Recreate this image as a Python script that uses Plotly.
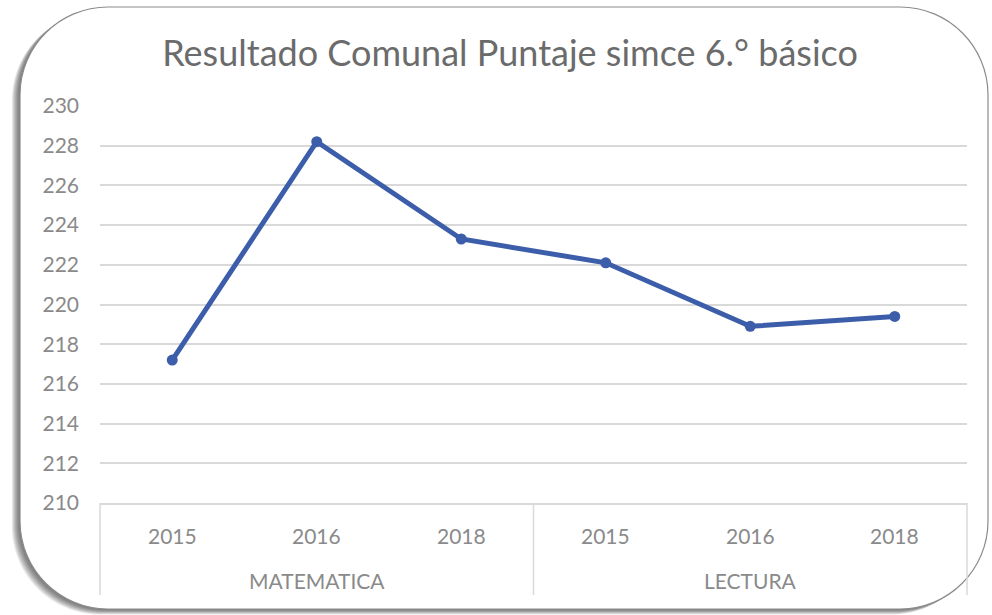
import plotly.graph_objects as go

# Series data
subjects = ["MATEMATICA", "MATEMATICA", "MATEMATICA", "LECTURA", "LECTURA", "LECTURA"]
years = ["2015", "2016", "2018", "2015", "2016", "2018"]
scores = [217.2, 228.2, 223.3, 222.1, 218.9, 219.4]
y_ticks = [210, 212, 214, 216, 218, 220, 222, 224, 226, 228, 230]

W, H = 992, 615
L, R, T, B = 100, 25, 106, 112
PW, PH = W - L - R, H - T - B

LABEL_GRAY = "#8a8a8a"
GRID_GRAY = "#d9d9d9"


def px(x):
    return (x - L) / PW


def py(y):
    return (H - B - y) / PH


def rounded_rect(x0, y0, x1, y1, r, dx=0, dy=0):
    k = 0.5523 * r
    x0, x1 = x0 + dx, x1 + dx
    y0, y1 = y0 + dy, y1 + dy
    pts = [
        ("M", [(x0 + r, y0)]),
        ("L", [(x1 - r, y0)]),
        ("C", [(x1 - r + k, y0), (x1, y0 + r - k), (x1, y0 + r)]),
        ("L", [(x1, y1 - r)]),
        ("C", [(x1, y1 - r + k), (x1 - r + k, y1), (x1 - r, y1)]),
        ("L", [(x0 + r, y1)]),
        ("C", [(x0 + r - k, y1), (x0, y1 - r + k), (x0, y1 - r)]),
        ("L", [(x0, y0 + r)]),
        ("C", [(x0, y0 + r - k), (x0 + r - k, y0), (x0 + r, y0)]),
    ]
    s = ""
    for cmd, ps in pts:
        s += cmd + " " + " ".join(f"{px(a):.5f},{py(b):.5f}" for a, b in ps) + " "
    return s + "Z"


shapes = []
# soft shadow toward the lower left
for i in range(9, 0, -1):
    shapes.append(dict(type="path", xref="paper", yref="paper", layer="below",
                       path=rounded_rect(20, 7, 988, 609, 88, dx=-i * 0.9, dy=i * 0.6),
                       fillcolor="rgba(50,50,50,0.10)", line=dict(width=0)))
# card frame
shapes.append(dict(type="path", xref="paper", yref="paper", layer="below",
                   path=rounded_rect(20, 7, 988, 609, 88),
                   fillcolor="white", line=dict(color="#8c8c8c", width=1.2)))

# category box dividers (left edge, group boundary, right edge)
n = len(years)
groups = []
for s in subjects:
    if s not in groups:
        groups.append(s)
bounds = [0]
for g in groups:
    bounds.append(bounds[-1] + subjects.count(g))
for b in bounds:
    shapes.append(dict(type="line", xref="paper", yref="paper", layer="above",
                       x0=b / n, x1=b / n, y0=0, y1=py(595),
                       line=dict(color=GRID_GRAY, width=1.5)))

annotations = []
for i, yr in enumerate(years):
    annotations.append(dict(xref="paper", yref="paper", x=(i + 0.5) / n, y=py(535),
                            text=yr, showarrow=False, xanchor="center", yanchor="middle",
                            font=dict(size=21, color=LABEL_GRAY)))
for gi, g in enumerate(groups):
    annotations.append(dict(xref="paper", yref="paper",
                            x=(bounds[gi] + bounds[gi + 1]) / 2 / n, y=py(580),
                            text=g, showarrow=False, xanchor="center", yanchor="middle",
                            font=dict(size=21, color=LABEL_GRAY)))

fig = go.Figure()
fig.add_trace(go.Scatter(
    x=[subjects, years], y=scores, mode="lines+markers",
    line=dict(color="#3C5DA9", width=5),
    marker=dict(color="#3C5DA9", size=11),
    showlegend=False, hoverinfo="skip",
))

fig.update_layout(
    width=W, height=H,
    margin=dict(l=L, r=R, t=T, b=B),
    paper_bgcolor="white", plot_bgcolor="rgba(0,0,0,0)",
    font=dict(family="Lato, sans-serif", color="#7f7f7f"),
    title=dict(text="Resultado Comunal Puntaje simce 6.° básico",
               x=(510 / W), xanchor="center", y=1 - 53 / H, yanchor="middle",
               font=dict(size=36, color="#6b6b6b")),
    shapes=shapes,
    annotations=annotations,
)
fig.update_yaxes(range=[210, 230], tickvals=y_ticks, showgrid=True,
                 gridcolor=GRID_GRAY, gridwidth=1.5, zeroline=False, showline=False,
                 tickfont=dict(size=21, color=LABEL_GRAY), ticklabelstandoff=20)
fig.update_xaxes(type="multicategory", range=[-0.5, n - 0.5], showgrid=False,
                 showline=True, linecolor=GRID_GRAY, linewidth=1.5,
                 showdividers=False, showticklabels=False, ticks="")

fig.write_html("out.html")
